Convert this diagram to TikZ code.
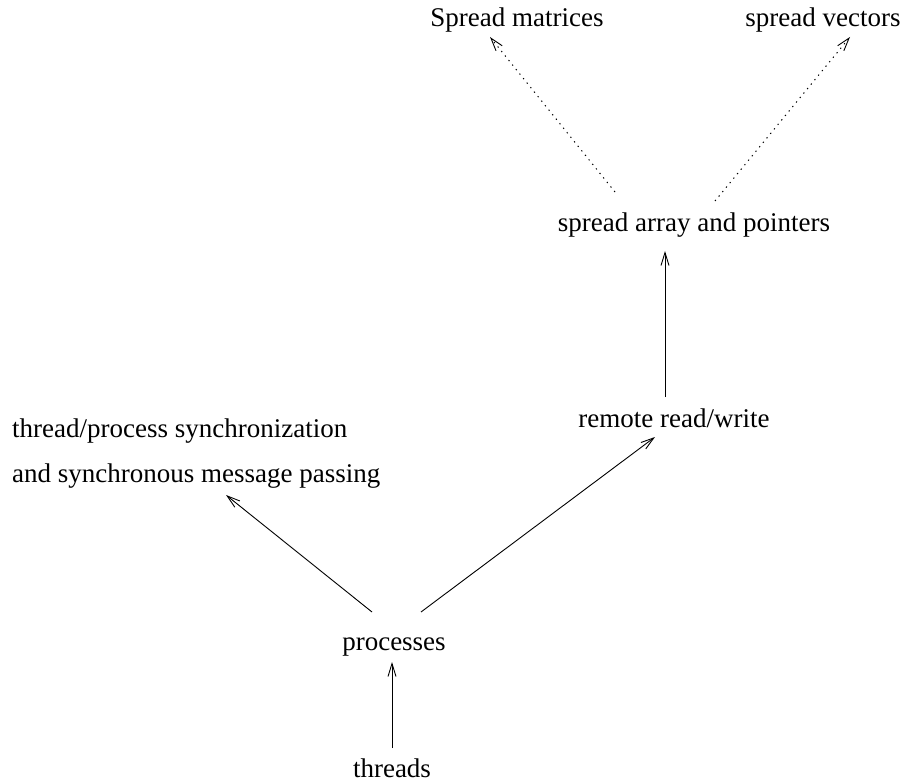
\documentclass[tikz,border=0pt]{standalone}
\usepackage{fontspec}
\setmainfont{Liberation Serif}
\usetikzlibrary{arrows.meta}
\begin{document}
\begin{tikzpicture}[x=1pt,y=-1pt,
  lbl/.style={inner sep=0pt,font=\fontsize{27}{32}\selectfont},
  conn/.style={line width=0.9pt,-{Straight Barb[length=13pt,width=8pt,line width=0.9pt]}},
  dotconn/.style={conn,line width=1pt,dash pattern=on 1.3pt off 4.5pt}]
\useasboundingbox (0,0) rectangle (902,783);
\node[lbl,anchor=base] (smat) at (517,27) {Spread matrices};
\node[lbl,anchor=base] (svec) at (823,27) {spread vectors};
\node[lbl,anchor=base] (spread) at (694,232) {spread array and pointers};
\node[lbl,anchor=base] (remote) at (674,427) {remote read/write};
\node[lbl,anchor=base west] (sync1) at (12,437) {thread/process synchronization};
\node[lbl,anchor=base west] (sync2) at (12,482) {and synchronous message passing};
\node[lbl,anchor=base] (proc) at (394,650) {processes};
\node[lbl,anchor=base] (thr) at (392,777) {threads};
\draw[conn] ([shift={(0,-29)}]thr.base) -- ([shift={(-2,12)}]proc.base);
\draw[conn] ([shift={(-22,-38)}]proc.base) -- ([shift={(214,13)}]sync2.base west);
\draw[conn] ([shift={(27,-38)}]proc.base) -- ([shift={(-19,10)}]remote.base);
\draw[conn] ([shift={(-9,-30)}]remote.base) -- ([shift={(-29,19)}]spread.base);
\draw[dotconn] ([shift={(-79,-40)}]spread.base) -- ([shift={(-27,10)}]smat.base);
\draw[dotconn] ([shift={(21,-31)}]spread.base) -- ([shift={(27,10)}]svec.base);
\end{tikzpicture}
\end{document}
